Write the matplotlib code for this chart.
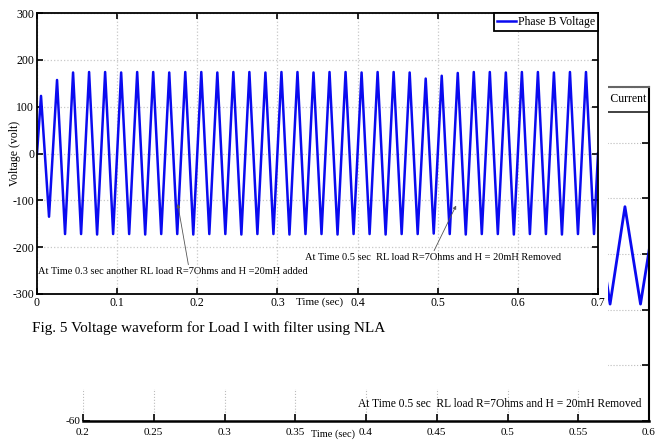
import numpy as np
import matplotlib
matplotlib.use("Agg")
import matplotlib.pyplot as plt
from matplotlib.patches import Rectangle

plt.rcParams['font.family'] = ['Liberation Serif', 'DejaVu Serif']
plt.rcParams['axes.unicode_minus'] = False

# --- DADOS ---
# tempos dos picos/vales (s), sinal de 50 Hz
t_extremos = np.round(np.arange(0.005, 0.7, 0.01), 3)
picos = [123, 157, 173, 174, 174, 173, 174, 174, 173, 174, 174, 173,
         174, 174, 173, 174, 174, 173, 174, 174, 173, 174, 174, 173,
         160, 166, 172, 174, 174, 173, 174, 174, 173, 174, 174]
vales = [-135, -172, -172, -173, -172, -172, -173, -172, -172, -173, -172, -172,
         -173, -172, -172, -173, -172, -172, -173, -172, -172, -173, -172, -172,
         -171, -172, -173, -172, -172, -173, -172, -172, -173, -172, -172]
v_inicio = 0
v_fim = 0

# grafico de fundo (corrente)
t_corrente = [0.552, 0.562, 0.5725, 0.583, 0.594, 0.605]
corrente = [-18, 17, -18, 17, -18, 17]

x_ticks = [0, 0.1, 0.2, 0.3, 0.4, 0.5, 0.6, 0.7]
x_labels = ['0', '0.1', '0.2', '0.3', '0.4', '0.5', '0.6', '0.7']
y_ticks = [-300, -200, -100, 0, 100, 200, 300]
bg_x_ticks = [0.2, 0.25, 0.3, 0.35, 0.4, 0.45, 0.5, 0.55, 0.6]
bg_x_labels = ['0.2', '0.25', '0.3', '0.35', '0.4', '0.45', '0.5', '0.55', '0.6']
bg_y_ticks = [-60, -40, -20, 0, 20, 40, 60]

W, H = 667, 443


def caixa(x0, y0, x1, y1):
    # converte pixels (origem em cima) para fracao da figura
    return [x0 / W, 1 - y1 / H, (x1 - x0) / W, (y1 - y0) / H]


def fx(x):
    return x / W


def fy(y):
    return 1 - y / H


fig = plt.figure(figsize=(W / 100, H / 100), dpi=100)

# --- grafico de fundo (parcialmente coberto) ---
bg = fig.add_axes(caixa(83, 87, 649, 421), zorder=0)
bg.plot(t_corrente, corrente, color='#0a0af0', lw=2.0)
bg.set_xlim(0.2, 0.6)
bg.set_ylim(-60, 60)
bg.set_xticks(bg_x_ticks)
bg.set_xticklabels(bg_x_labels)
bg.set_yticks(bg_y_ticks)
bg.set_yticklabels(['-60', '', '', '', '', '', ''])
bg.tick_params(direction='in', length=5, width=1.2, labelsize=8, pad=2,
               right=True, top=False)
bg.tick_params(axis='x', pad=5)
bg.grid(True, color='#bbbbbb', linestyle=':', lw=0.8)
bg.spines['left'].set_visible(False)
bg.spines['bottom'].set_linewidth(1.8)
bg.spines['right'].set_linewidth(1.5)
bg.spines['top'].set_linewidth(1.5)
bg.spines['top'].set_color('#666666')
bg.text(0.4947, -54, 'At Time 0.5 sec  RL load R=7Ohms and H = 20mH Removed',
        ha='center', va='center', fontsize=8.3)
# caixa da legenda "Current"
bg.add_patch(Rectangle((0.83, 1 - 25 / 334), 0.17, 25 / 334, transform=bg.transAxes,
                       facecolor='white', edgecolor='#333333', lw=1.3, clip_on=False))
bg.text(0.995, 1 - 12.5 / 334, 'Phase B Current', transform=bg.transAxes,
        ha='right', va='center', fontsize=8.5)
fig.text(fx(333), fy(434), 'Time (sec)', ha='center', va='center', fontsize=7.5)

# folha branca do grafico da frente
fig.add_artist(Rectangle((0, fy(389)), fx(608), 1 - fy(389), transform=fig.transFigure,
                         facecolor='white', edgecolor='none', zorder=1))

# --- grafico principal ---
t = np.concatenate([[0], t_extremos, [0.7]])
v_meio = np.empty(len(t_extremos))
v_meio[0::2] = picos
v_meio[1::2] = vales
v = np.concatenate([[v_inicio], v_meio, [v_fim]])

ax = fig.add_axes(caixa(37, 13, 598, 294), zorder=2)
ax.plot(t, v, color='#0a0af0', lw=1.8, label='Phase B Voltage')
ax.set_xlim(0, 0.7)
ax.set_ylim(-300, 300)
ax.set_xticks(x_ticks)
ax.set_xticklabels(x_labels)
ax.set_yticks(y_ticks)
ax.tick_params(direction='in', length=4, width=1.2, labelsize=8.5, pad=2,
               top=True, right=True)
ax.grid(True, color='#c8c8c8', linestyle=':', lw=0.9)
for s in ax.spines.values():
    s.set_linewidth(1.3)

leg = ax.legend(loc='upper right', borderaxespad=0, fancybox=False, framealpha=1,
                edgecolor='black', fontsize=8.5, handlelength=1.6, handletextpad=0.2,
                borderpad=0.25)
leg.get_frame().set_linewidth(1.3)

seta = dict(arrowstyle='-|>', color='#555555', lw=0.6, mutation_scale=5, shrinkA=0, shrinkB=0)
ax.annotate('At Time 0.3 sec another RL load R=7Ohms and H =20mH added',
            xy=(0.1756, -108), xytext=(0.001, -253), ha='left', va='center',
            fontsize=7.5, arrowprops=dict(seta, relpos=(0.56, 1.0)))
ax.annotate('At Time 0.5 sec  RL load R=7Ohms and H = 20mH Removed',
            xy=(0.523, -111), xytext=(0.334, -223), ha='left', va='center',
            fontsize=7.5, arrowprops=dict(seta, relpos=(0.5, 1.0)))

fig.text(fx(320), fy(302), 'Time (sec)', ha='center', va='center', fontsize=8, zorder=3)
fig.text(fx(15), fy(153), 'Voltage (volt)', ha='center', va='center', rotation=90,
         fontsize=8.5, zorder=3)
fig.text(fx(32), fy(328), 'Fig. 5 Voltage waveform for Load I with filter using NLA',
         ha='left', va='center', fontsize=11, zorder=3)

fig.savefig('out.png', dpi=100)
